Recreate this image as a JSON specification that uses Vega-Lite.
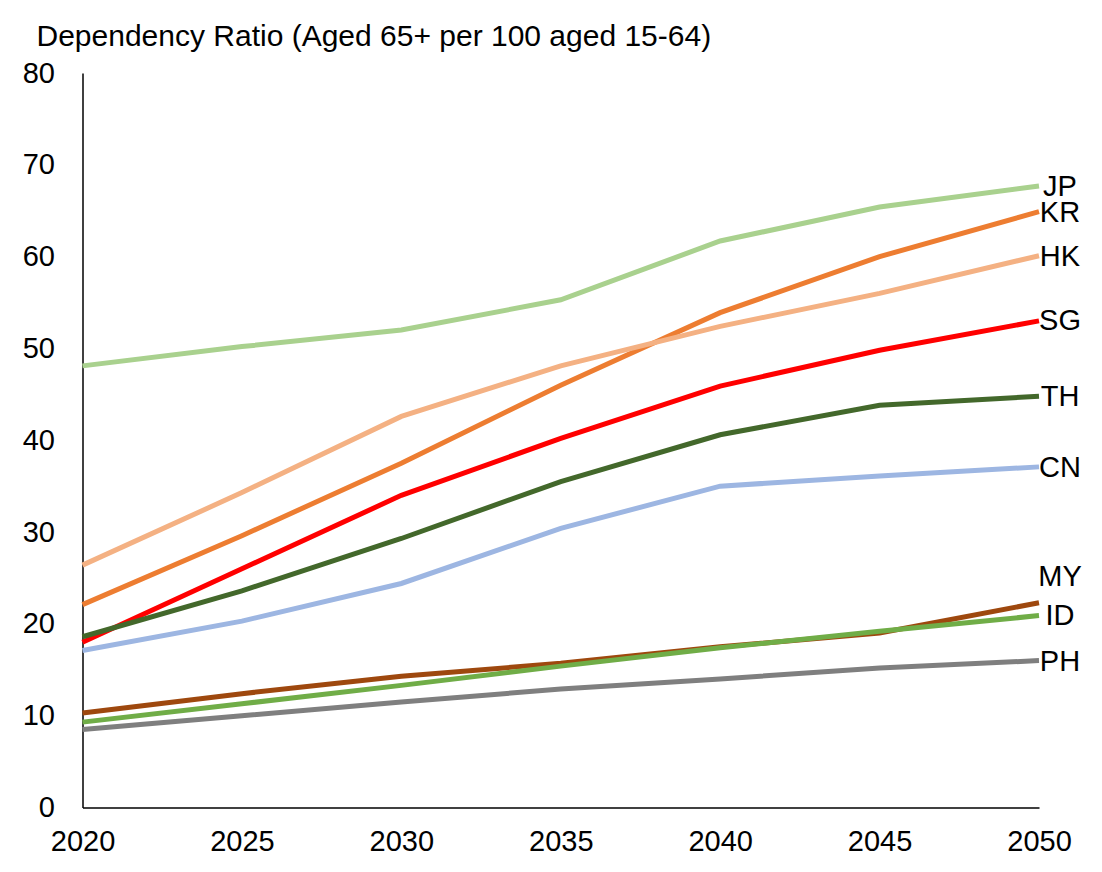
{
  "$schema": "https://vega.github.io/schema/vega-lite/v6.json",
  "width": 956.5,
  "height": 734.5,
  "autosize": {"type": "none"},
  "padding": {"left": 82.5, "top": 73, "right": 63, "bottom": 64.5},
  "background": "white",
  "config": {"view": {"stroke": null}, "font": "Liberation Sans"},
  "title": {
    "text": "Dependency Ratio (Aged 65+ per 100 aged 15-64)",
    "anchor": "start",
    "frame": "group",
    "fontSize": 30,
    "fontWeight": "normal",
    "font": "Liberation Sans",
    "color": "black",
    "dx": -46,
    "offset": -17,
    "baseline": "alphabetic"
  },
  "datasets": {
    "ratios": [
      {"series": "JP", "year": 2020, "value": 48.1},
      {"series": "JP", "year": 2025, "value": 50.2},
      {"series": "JP", "year": 2030, "value": 52.0},
      {"series": "JP", "year": 2035, "value": 55.3},
      {"series": "JP", "year": 2040, "value": 61.7},
      {"series": "JP", "year": 2045, "value": 65.4},
      {"series": "JP", "year": 2050, "value": 67.7},
      {"series": "KR", "year": 2020, "value": 22.1},
      {"series": "KR", "year": 2025, "value": 29.6},
      {"series": "KR", "year": 2030, "value": 37.5},
      {"series": "KR", "year": 2035, "value": 46.0},
      {"series": "KR", "year": 2040, "value": 53.9},
      {"series": "KR", "year": 2045, "value": 60.0},
      {"series": "KR", "year": 2050, "value": 64.9},
      {"series": "HK", "year": 2020, "value": 26.4},
      {"series": "HK", "year": 2025, "value": 34.3},
      {"series": "HK", "year": 2030, "value": 42.6},
      {"series": "HK", "year": 2035, "value": 48.1},
      {"series": "HK", "year": 2040, "value": 52.4},
      {"series": "HK", "year": 2045, "value": 56.0},
      {"series": "HK", "year": 2050, "value": 60.1},
      {"series": "SG", "year": 2020, "value": 18.0},
      {"series": "SG", "year": 2025, "value": 26.0},
      {"series": "SG", "year": 2030, "value": 34.0},
      {"series": "SG", "year": 2035, "value": 40.2},
      {"series": "SG", "year": 2040, "value": 45.9},
      {"series": "SG", "year": 2045, "value": 49.8},
      {"series": "SG", "year": 2050, "value": 53.0},
      {"series": "TH", "year": 2020, "value": 18.6},
      {"series": "TH", "year": 2025, "value": 23.6},
      {"series": "TH", "year": 2030, "value": 29.3},
      {"series": "TH", "year": 2035, "value": 35.5},
      {"series": "TH", "year": 2040, "value": 40.6},
      {"series": "TH", "year": 2045, "value": 43.8},
      {"series": "TH", "year": 2050, "value": 44.8},
      {"series": "CN", "year": 2020, "value": 17.1},
      {"series": "CN", "year": 2025, "value": 20.3},
      {"series": "CN", "year": 2030, "value": 24.4},
      {"series": "CN", "year": 2035, "value": 30.4},
      {"series": "CN", "year": 2040, "value": 35.0},
      {"series": "CN", "year": 2045, "value": 36.1},
      {"series": "CN", "year": 2050, "value": 37.1},
      {"series": "MY", "year": 2020, "value": 10.3},
      {"series": "MY", "year": 2025, "value": 12.4},
      {"series": "MY", "year": 2030, "value": 14.3},
      {"series": "MY", "year": 2035, "value": 15.7},
      {"series": "MY", "year": 2040, "value": 17.5},
      {"series": "MY", "year": 2045, "value": 19.0},
      {"series": "MY", "year": 2050, "value": 22.3},
      {"series": "ID", "year": 2020, "value": 9.3},
      {"series": "ID", "year": 2025, "value": 11.3},
      {"series": "ID", "year": 2030, "value": 13.3},
      {"series": "ID", "year": 2035, "value": 15.4},
      {"series": "ID", "year": 2040, "value": 17.4},
      {"series": "ID", "year": 2045, "value": 19.2},
      {"series": "ID", "year": 2050, "value": 20.9},
      {"series": "PH", "year": 2020, "value": 8.5},
      {"series": "PH", "year": 2025, "value": 10.0},
      {"series": "PH", "year": 2030, "value": 11.5},
      {"series": "PH", "year": 2035, "value": 12.9},
      {"series": "PH", "year": 2040, "value": 14.0},
      {"series": "PH", "year": 2045, "value": 15.2},
      {"series": "PH", "year": 2050, "value": 16.0}
    ],
    "labels": [
      {"series": "JP", "year": 2050, "labelY": 67.6},
      {"series": "KR", "year": 2050, "labelY": 64.7},
      {"series": "HK", "year": 2050, "labelY": 60.0},
      {"series": "SG", "year": 2050, "labelY": 53.0},
      {"series": "TH", "year": 2050, "labelY": 44.7},
      {"series": "CN", "year": 2050, "labelY": 37.0},
      {"series": "MY", "year": 2050, "labelY": 25.1},
      {"series": "ID", "year": 2050, "labelY": 20.9},
      {"series": "PH", "year": 2050, "labelY": 15.8}
    ]
  },
  "layer": [
    {
      "data": {"name": "ratios"},
      "mark": {"type": "line", "strokeWidth": 5, "interpolate": "linear"},
      "encoding": {
        "x": {
          "field": "year",
          "type": "quantitative",
          "scale": {"domain": [2020, 2050], "nice": false, "zero": false},
          "axis": {
            "values": [2020, 2025, 2030, 2035, 2040, 2045, 2050],
            "format": "d",
            "title": null,
            "grid": false,
            "ticks": false,
            "tickSize": 0,
            "domainColor": "black",
            "domainWidth": 1.5,
            "labelFontSize": 29,
            "labelFont": "Liberation Sans",
            "labelColor": "black",
            "labelPadding": 20,
            "labelFlush": false,
            "labelOverlap": false
          }
        },
        "y": {
          "field": "value",
          "type": "quantitative",
          "scale": {"domain": [0, 80], "nice": false},
          "axis": {
            "values": [0, 10, 20, 30, 40, 50, 60, 70, 80],
            "title": null,
            "grid": false,
            "ticks": false,
            "tickSize": 0,
            "domainColor": "black",
            "domainWidth": 1.5,
            "labelFontSize": 29,
            "labelFont": "Liberation Sans",
            "labelColor": "black",
            "labelPadding": 28,
            "labelOverlap": false
          }
        },
        "color": {
          "field": "series",
          "type": "nominal",
          "scale": {
            "domain": ["JP", "KR", "HK", "SG", "TH", "CN", "MY", "ID", "PH"],
            "range": ["#a9d18e", "#ed7d31", "#f4b183", "#ff0000", "#43682b", "#9db6e2", "#9e480e", "#70ad47", "#7f7f7f"]
          },
          "legend": null
        }
      }
    },
    {
      "data": {"name": "labels"},
      "mark": {"type": "text", "align": "center", "baseline": "middle", "dx": 21, "fontSize": 29, "font": "Liberation Sans", "color": "black"},
      "encoding": {
        "x": {"field": "year", "type": "quantitative"},
        "y": {"field": "labelY", "type": "quantitative"},
        "text": {"field": "series", "type": "nominal"}
      }
    }
  ]
}
